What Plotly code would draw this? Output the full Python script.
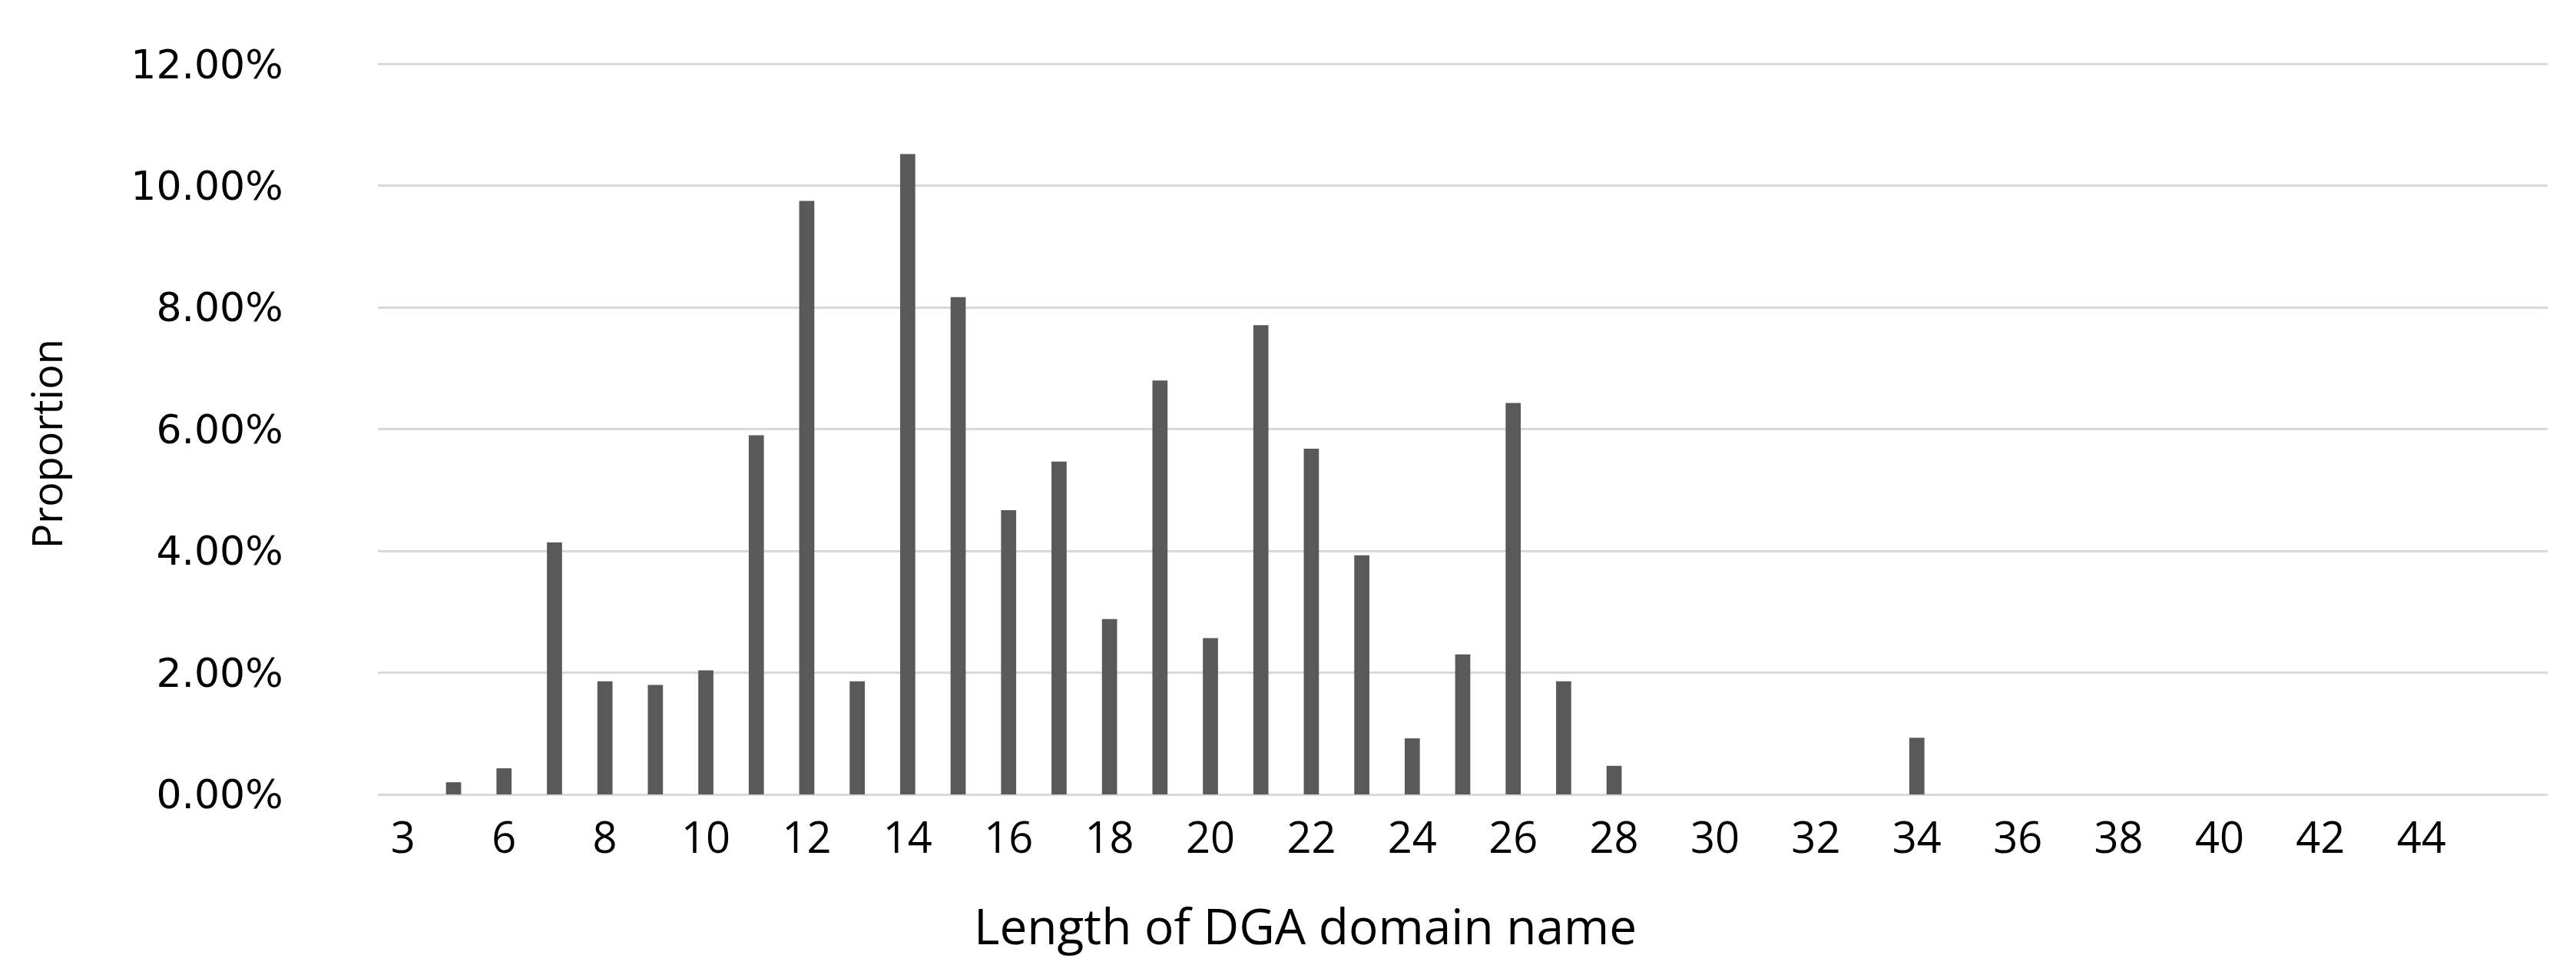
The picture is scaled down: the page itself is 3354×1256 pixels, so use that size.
import plotly.graph_objects as go

# Domain-name length categories as they appear on the category axis
lengths = ["3", "5", "6", "7", "8", "9", "10", "11", "12", "13", "14", "15",
           "16", "17", "18", "19", "20", "21", "22", "23", "24", "25", "26",
           "27", "28", "29", "30", "31", "32", "33", "34", "35", "36", "37",
           "38", "39", "40", "41", "42", "43", "44", "45", "46"]

# Proportion of DGA domains per length, in percent
proportion_pct = [0.00, 0.20, 0.43, 4.14, 1.86, 1.80, 2.04, 5.90, 9.75, 1.86,
                  10.52, 8.17, 4.67, 5.47, 2.88, 6.80, 2.57, 7.71, 5.68, 3.93,
                  0.92, 2.30, 6.43, 1.86, 0.47, 0.00, 0.00, 0.00, 0.00, 0.00,
                  0.93, 0.00, 0.00, 0.00, 0.00, 0.00, 0.00, 0.00, 0.00, 0.00,
                  0.00, 0.00, 0.00]

# labels shown on every other category, up to 44
x_tick_labels = lengths[0:41:2]
y_ticks = [0.0, 0.02, 0.04, 0.06, 0.08, 0.10, 0.12]

GRID = "#d9d9d9"

fig = go.Figure(
    go.Bar(
        x=lengths,
        y=[v / 100 for v in proportion_pct],
        marker=dict(color="#595959", line=dict(width=0)),
    )
)

fig.update_layout(
    width=3354,
    height=1256,
    margin=dict(l=492, r=37, t=81, b=222),
    plot_bgcolor="white",
    paper_bgcolor="white",
    bargap=0.7,
    showlegend=False,
    font=dict(family="Open Sans", color="#000000"),
    annotations=[
        dict(
            text="Proportion",
            xref="paper", yref="paper",
            x=-0.153, y=0.479,
            xanchor="center", yanchor="middle",
            textangle=-90, showarrow=False,
            font=dict(family="Open Sans", size=54, color="#000000"),
        ),
        dict(
            text="Length of DGA domain name",
            xref="paper", yref="paper",
            x=0.4276, y=-0.179,
            xanchor="center", yanchor="middle",
            showarrow=False,
            font=dict(family="Open Sans", size=64, color="#000000"),
        ),
    ],
)

fig.update_xaxes(
    type="category",
    categoryorder="array",
    categoryarray=lengths,
    range=[-0.5, len(lengths) - 0.5],
    tickmode="array",
    tickvals=x_tick_labels,
    ticktext=x_tick_labels,
    ticks="outside",
    ticklen=8,
    tickcolor="rgba(0,0,0,0)",
    tickfont=dict(family="Open Sans", size=56, color="#000000"),
    showgrid=False,
    showline=False,
    zeroline=False,
)

fig.update_yaxes(
    range=[0, 0.1203],
    tickmode="array",
    tickvals=y_ticks,
    tickformat=".2%",
    ticks="outside",
    ticklen=112,
    tickcolor="rgba(0,0,0,0)",
    tickfont=dict(family="DejaVu Sans", size=52, color="#000000"),
    showgrid=True,
    gridcolor=GRID,
    gridwidth=3,
    zeroline=True,
    zerolinecolor=GRID,
    zerolinewidth=3,
    showline=False,
)

# drop the default body margin so the figure sits at the page origin
fig.write_html(
    "out.html",
    config={"displayModeBar": False},
    post_script="document.body.style.margin='0';",
)
